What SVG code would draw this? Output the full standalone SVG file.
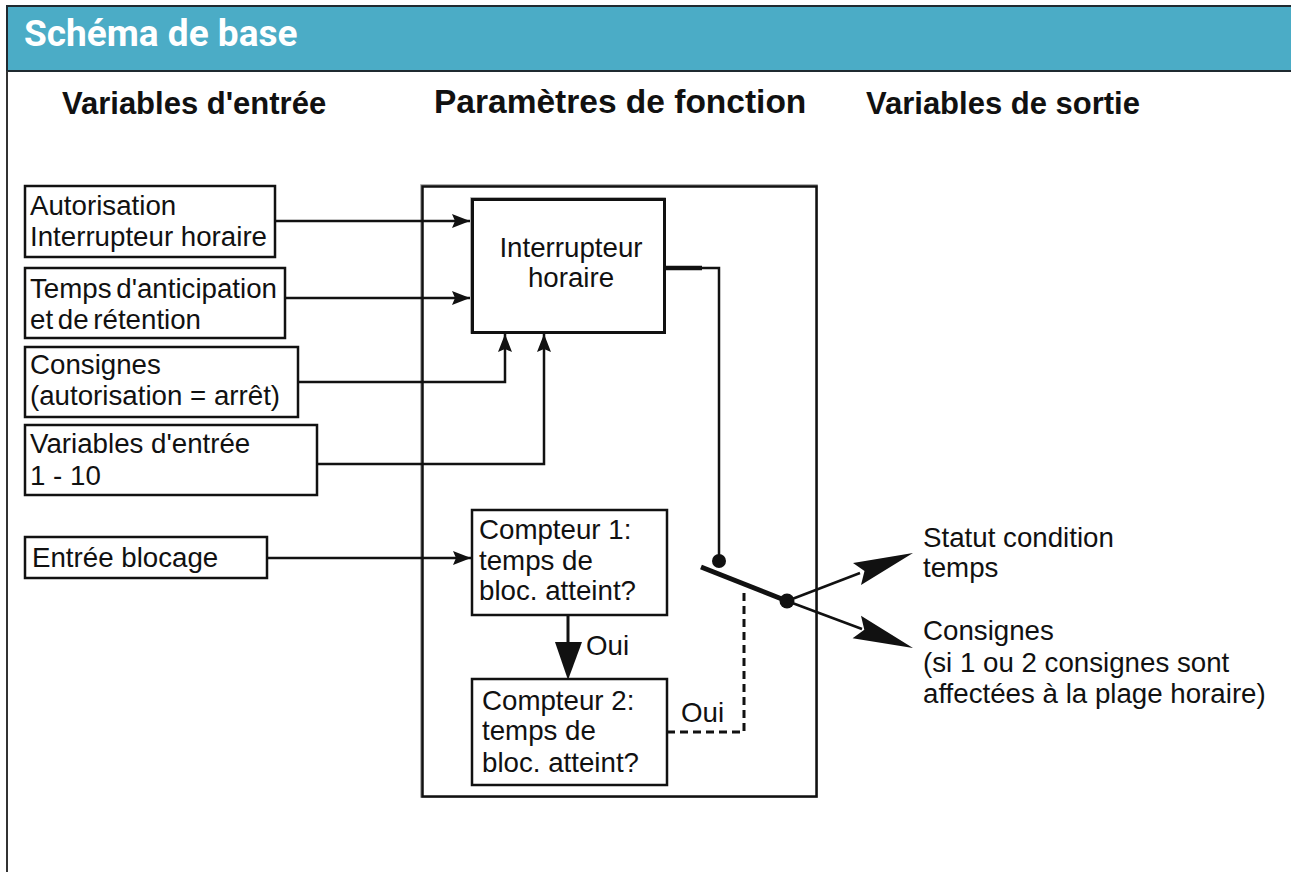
<svg xmlns="http://www.w3.org/2000/svg" width="1291" height="872" viewBox="0 0 1291 872">
<defs>
<style>
.t{font-family:"Liberation Sans",Arial,sans-serif;font-size:27.7px;fill:#111}
.h{font-family:"Liberation Sans",Arial,sans-serif;font-weight:bold;font-size:31px;fill:#111}
.title{font-family:Roboto,"Liberation Sans",sans-serif;font-weight:bold;font-size:37px;fill:#fff}
.box{fill:#fff;stroke:#111;stroke-width:2.5}
.wire{fill:none;stroke:#111;stroke-width:2.5}
</style>
<marker id="ah" markerUnits="userSpaceOnUse" markerWidth="20" markerHeight="16" refX="18" refY="7" orient="auto" viewBox="0 0 20 16">
<path d="M0,0 L18,7 L0,14 L3,7 z" fill="#111"/>
</marker>
</defs>
<rect x="0" y="0" width="1291" height="872" fill="#fff"/>
<g id="card">
<rect x="7" y="6" width="1290" height="65" fill="#4BACC6" stroke="#1f2a30" stroke-width="2"/>
<line x1="7" y1="71" x2="7" y2="872" stroke="#333" stroke-width="2"/>
<text class="title" x="24" y="46">Schéma de base</text>
</g>
<g id="headings">
<text class="h" x="62" y="114">Variables d'entrée</text>
<text class="h" x="434" y="113" style="font-size:33.5px">Paramètres de fonction</text>
<text class="h" x="866" y="114">Variables de sortie</text>
</g>
<g id="fonction">
<rect x="421" y="185" width="396" height="612" fill="none" stroke="#999" stroke-width="1.5"/>
<rect x="422.5" y="186.5" width="394" height="610" fill="none" stroke="#111" stroke-width="2.5"/>
</g>
<g id="in1">
<rect class="box" x="25" y="186" width="250" height="71"/>
<text class="t" x="30" y="215">Autorisation</text>
<text class="t" x="30" y="246">Interrupteur horaire</text>
</g>
<g id="in2">
<rect class="box" x="25" y="268" width="260" height="70"/>
<text class="t" x="30" y="298" word-spacing="-3">Temps d'anticipation</text>
<text class="t" x="30" y="329" word-spacing="-3">et de rétention</text>
</g>
<g id="in3">
<rect class="box" x="25" y="347" width="273" height="70"/>
<text class="t" x="30" y="374">Consignes</text>
<text class="t" x="30" y="405">(autorisation = arrêt)</text>
</g>
<g id="in4">
<rect class="box" x="25" y="425" width="292" height="70"/>
<text class="t" x="30" y="453">Variables d'entrée</text>
<text class="t" x="30" y="485">1 - 10</text>
</g>
<g id="in5">
<rect class="box" x="25" y="537" width="242" height="41"/>
<text class="t" x="32" y="567">Entrée blocage</text>
</g>
<g id="interrupteur">
<rect x="471" y="198" width="194" height="135" fill="#fff" stroke="#999" stroke-width="1.5"/>
<rect x="472.5" y="199.5" width="192" height="133" fill="none" stroke="#111" stroke-width="3"/>
<text class="t" x="571" y="257" text-anchor="middle">Interrupteur</text>
<text class="t" x="571" y="287" text-anchor="middle">horaire</text>
</g>
<g id="compteur1">
<rect class="box" x="472" y="510" width="195" height="105"/>
<text class="t" x="479" y="539">Compteur 1:</text>
<text class="t" x="479" y="570">temps de</text>
<text class="t" x="479" y="600">bloc. atteint?</text>
</g>
<g id="compteur2">
<rect class="box" x="472" y="679" width="195" height="106"/>
<text class="t" x="482" y="710">Compteur 2:</text>
<text class="t" x="482" y="740">temps de</text>
<text class="t" x="482" y="772">bloc. atteint?</text>
</g>
<g id="sorties">
<text class="t" x="923" y="547">Statut condition</text>
<text class="t" x="923" y="577">temps</text>
<text class="t" x="923" y="640">Consignes</text>
<text class="t" x="923" y="672">(si 1 ou 2 consignes sont</text>
<text class="t" x="923" y="703">affectées à la plage horaire)</text>
</g>
<g id="connectors">
<path class="wire" d="M275,221 H470" marker-end="url(#ah)"/>
<path class="wire" d="M285,298 H470" marker-end="url(#ah)"/>
<path class="wire" d="M298,382 H505 V334" marker-end="url(#ah)"/>
<path class="wire" d="M317,464 H544 V334" marker-end="url(#ah)"/>
<path class="wire" d="M267,558 H471" marker-end="url(#ah)"/>
<path d="M665,268 H702" fill="none" stroke="#111" stroke-width="4.5"/>
<path class="wire" d="M700,268 H719 V560"/>
<circle cx="719" cy="561" r="7" fill="#111"/>
<line x1="701" y1="567" x2="787" y2="601" stroke="#111" stroke-width="5"/>
<circle cx="787" cy="601" r="7.5" fill="#111"/>
<line x1="787" y1="601" x2="860" y2="573" stroke="#111" stroke-width="2.5"/>
<polygon points="913,553 861,585 864.5,571 853,563" fill="#111"/>
<line x1="787" y1="601" x2="862" y2="629" stroke="#111" stroke-width="2.5"/>
<polygon points="913,648 852.6,638.2 864.3,629.8 861,615.8" fill="#111"/>
<path d="M667,732 H744 V588" fill="none" stroke="#111" stroke-width="3" stroke-dasharray="8,5"/>
<line x1="568" y1="615" x2="568" y2="645" stroke="#111" stroke-width="3"/>
<polygon points="555,642 582,642 568,680" fill="#111"/>
<text class="t" x="586" y="655">Oui</text>
<text class="t" x="681" y="722">Oui</text>
</g>
</svg>
